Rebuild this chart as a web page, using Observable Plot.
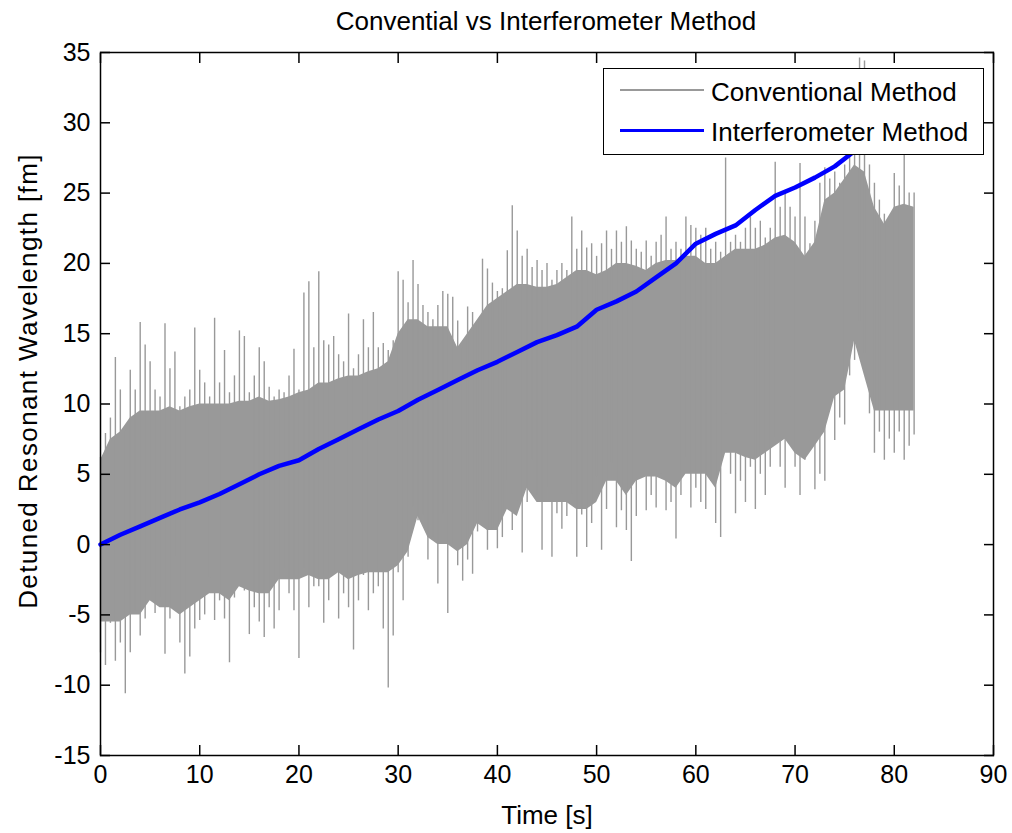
<!DOCTYPE html>
<html>
<head>
<meta charset="utf-8">
<script src="https://cdn.jsdelivr.net/npm/d3@7"></script>
<script src="https://cdn.jsdelivr.net/npm/@observablehq/plot@0.6"></script>
<style>
  html, body { margin: 0; padding: 0; background: #fff; }
  #wrap { position: relative; width: 1012px; height: 833px; font-family: "Liberation Sans", Arial, sans-serif; color: #000; }
  #title { position: absolute; left: 296px; width: 500px; top: 8px; text-align: center; font-size: 26px; line-height: 26px; }
  #ylabel { position: absolute; left: 28px; top: 381px; transform: translate(-50%, -50%) rotate(-90deg); font-size: 26px; line-height: 26px; letter-spacing: 1.4px; white-space: nowrap; }
  #legend { position: absolute; left: 603px; top: 68px; width: 381px; height: 87px; box-sizing: border-box; border: 1.5px solid #000; background: #fff; }
  .lg-line { position: absolute; left: 16px; width: 84px; }
  .lg-text { position: absolute; left: 107px; font-size: 26px; line-height: 26px; white-space: nowrap; }
</style>
</head>
<body>
<div id="wrap">
  <div id="chart"></div>
  <div id="title"></div>
  <div id="ylabel"></div>
  <div id="legend"></div>
</div>
<script>
// ---- Data ----
const titleText = "Convential vs Interferometer Method";
const xLabel = "Time [s]";
const yLabel = "Detuned Resonant Wavelength [fm]";
const seriesNames = ["Conventional Method", "Interferometer Method"];
const xTicks = [0, 10, 20, 30, 40, 50, 60, 70, 80, 90];
const yTicks = [-15, -10, -5, 0, 5, 10, 15, 20, 25, 30, 35];

// Conventional method: dense core band, one value per second (t = 0..82 s)
const coreTop = [6,7.5,8,9,9.5,9.5,9.5,9.8,9.5,9.8, 10,10,10,10,10.2,10.2,10.5,10.2,10.3,10.5,
  10.8,11,11.5,11.5,11.8,12,12,12.3,12.5,13, 15,16,16,15.5,15.5,15.5,14,15,16,17,
  17.5,18,18.5,18.5,18.3,18.3,18.5,19,19.5,19.5, 19.2,19.5,20,20,19.8,19.5,20,20.2,20.2,20.5,
  20.5,20,20,20.5,21,21,21,21.3,21.8,22, 21.5,20.5,21.5,24.5,25,26,27,26.5,24,22.8,
  24,24.2,24];
const coreBottom = [-5.5,-5.5,-5.5,-5,-5,-4,-4.5,-4.5,-5,-4.5, -4,-3.5,-3.5,-4,-3,-3.3,-3.5,-3.5,-2.5,-2.5,
  -2.5,-2.2,-2.5,-2.5,-2,-2.5,-2.2,-2,-2,-2, -1.5,-0.5,2,0.5,0,0,-0.5,0,1.5,1,
  1,2.5,2,4,3,3,3,3,2.5,2.5, 3,4.5,4.5,3.5,4.5,4.8,4.8,4.5,4,5,
  5,5,4,6.5,6.5,6.2,6,6.5,7,7.5, 6.5,6,7,8,10.5,11,14.5,12,9.5,9.5,
  9.5,9.5,9.5];

// Conventional method: spike extremes, one pair every 0.5 s (t = 0..82 s)
const spikeTop = [6.2,7.9,9,13.3,11,8.1,12.4,11,15.8,14.2,
  13,11,10.5,15.7,12.5,13.7,9.8,10.5,11,15.4,
  12.4,11.5,10.5,16.1,11.5,13.8,10.8,12,15.2,14.8,
  10.8,12,14,13,11.2,10.5,11,10.8,12,13.9,
  11,17.9,18.7,14,19.4,14.5,14.2,14.8,13.5,13,
  16.4,12.5,13.5,16,14,16.5,14,14.3,13.8,14.5,
  19.4,18.8,17.2,20.2,18.5,17,16.5,16,17,18,
  17.8,17.6,15.9,14,16.9,16.5,15.9,20.3,19.6,18.6,
  18,18.2,20.9,24.1,22.3,20.5,21,19.7,20.2,19.5,
  20,18.8,19.5,20,19.5,23.3,21,22.3,21.1,21.4,
  20.5,21.4,22.3,21,22.3,21.5,22.6,21.6,21,20.8,
  21.6,20.5,21.5,22,23.3,21,21.5,21,23.3,22.7,
  22.5,22,22.5,21,21.5,20.8,27.5,21.5,22,21.5,
  22.5,23.3,22.5,23,21.8,22.5,27.2,24,25,24,
  23.3,27.1,23.3,21.4,23,25.7,26.8,26,26.5,25.7,
  27,27.8,28,34.6,34.4,27,25.7,24.5,23.5,22.6,
  26.4,25.5,27.8,25,25];
const spikeBottom = [-7.7,-8.6,-5.6,-8.3,-7,-10.6,-7.7,-4.7,-6.5,-5.3,
  -3.1,-4.9,-3.8,-7.8,-5.3,-0.9,-7,-9.2,-8,-6,
  -5.4,-5,-2.4,-5.4,-4,-5.3,-8.4,-3.8,-2.6,-3.3,
  -6.4,-4.5,-5.5,-6.6,-4.5,-6,-4.7,-1.7,-3.5,-4.7,
  -8.1,-1.7,-4.5,-3,-3,-5.6,-4,-2,-5.3,-3.5,
  -4.5,-7.5,-4,-2.2,-4.7,-3.5,-3,-6,-10.2,-6.5,
  -2,-4,-0.9,2.7,1.7,2.1,-1.1,0.5,-2.8,2.2,
  -4.9,0,-1.5,-2.6,-1.1,-2.1,0.9,3.1,-0.4,1.1,
  -0.3,0.5,4.6,1,3.1,-0.6,3,6,3.5,-0.4,
  4.1,-0.9,2.2,1.1,2,3.6,-0.9,2.1,-0.2,1.5,
  4.8,-0.4,2.5,5.8,1.2,2.4,1,-1.2,2,4.8,
  2.4,3.5,2.6,5,2.4,3,0.4,3.5,6.2,2.6,
  4,3,2.5,4.5,1.5,0.5,9.3,5,2.2,4.5,
  3,5.5,2.5,5,3.5,5.5,7.6,5.5,4,10.5,
  5.5,3.5,6,8.1,3.9,5,4.5,11.5,7.4,9,
  8.5,12,13.1,15.9,13.6,9.3,6.5,8,6,7.5,
  6.5,8,6,7,7.8];

// Interferometer method: one value every 2 s (t = 0..82 s)
const interfValues = [0,0.7,1.3,1.9,2.5,3.0,3.6,4.3,5.0,5.6,
  6.0,6.8,7.5,8.2,8.9,9.5,10.3,11.0,11.7,12.4,
  13.0,13.7,14.4,14.9,15.5,16.7,17.3,18.0,19.0,20.0,
  21.4,22.1,22.7,23.8,24.8,25.4,26.1,26.9,28.0,29.0,
  30.0,31.0];

const colors = { conv: "#999999", interf: "#0000ff" };

// ---- Build tables ----
const core = coreTop.map((v, i) => ({ t: i, hi: v, lo: coreBottom[i] }));
const spikes = spikeTop.map((v, i) => ({ t: i * 0.5, hi: v, lo: spikeBottom[i] }));
const interf = interfValues.map((v, i) => ({ t: i * 2, v }));

const font = '"Liberation Sans", Arial, sans-serif';
const fmt = d => String(d);
const chart = Plot.plot({
  width: 1012,
  height: 833,
  marginTop: 52,
  marginBottom: 78,
  marginLeft: 100,
  marginRight: 19,
  x: { domain: [0, 90] },
  y: { domain: [-15, 35] },
  style: { fontFamily: font, fontSize: "25px", background: "#fff", color: "#000", overflow: "visible" },
  marks: [
    Plot.areaY(core, { x: "t", y1: "lo", y2: "hi", fill: colors.conv }),
    Plot.ruleX(spikes, { x: "t", y1: "lo", y2: "hi", stroke: colors.conv, strokeWidth: 1.4 }),
    Plot.line(interf, { x: "t", y: "v", stroke: colors.interf, strokeWidth: 4.5 }),
    Plot.frame({ stroke: "#000", strokeWidth: 1.5 }),
    Plot.axisX({ ticks: xTicks, anchor: "bottom", tickSize: -10, strokeWidth: 1.5, tickFormat: () => "", label: null }),
    Plot.axisX({ ticks: xTicks, anchor: "top", tickSize: -10, strokeWidth: 1.5, tickFormat: () => "", label: null }),
    Plot.axisY({ ticks: yTicks, anchor: "left", tickSize: -10, strokeWidth: 1.5, tickFormat: () => "", label: null }),
    Plot.axisY({ ticks: yTicks, anchor: "right", tickSize: -10, strokeWidth: 1.5, tickFormat: () => "", label: null }),
    Plot.axisX({ ticks: xTicks, anchor: "bottom", tickSize: 0, tickPadding: 10, fontSize: 25, tickFormat: fmt, label: null }),
    Plot.axisY({ ticks: yTicks, anchor: "left", tickSize: 0, tickPadding: 10, fontSize: 25, tickFormat: fmt, label: null }),
    Plot.text([xLabel], { frameAnchor: "bottom", dy: 60, fontSize: 26, lineAnchor: "middle" })
  ]
});
document.getElementById("chart").appendChild(chart);

// ---- Title, y label and legend ----
document.getElementById("title").textContent = titleText;
document.getElementById("ylabel").textContent = yLabel;
const legend = document.getElementById("legend");
[[colors.conv, 1.5, 20, 10], [colors.interf, 2.5, 60, 50]].forEach(([c, w, ly, ty], i) => {
  const line = document.createElement("div");
  line.className = "lg-line";
  line.style.top = ly + "px";
  line.style.height = w + "px";
  line.style.background = c;
  legend.appendChild(line);
  const txt = document.createElement("div");
  txt.className = "lg-text";
  txt.style.top = ty + "px";
  txt.textContent = seriesNames[i];
  legend.appendChild(txt);
});
</script>
</body>
</html>
